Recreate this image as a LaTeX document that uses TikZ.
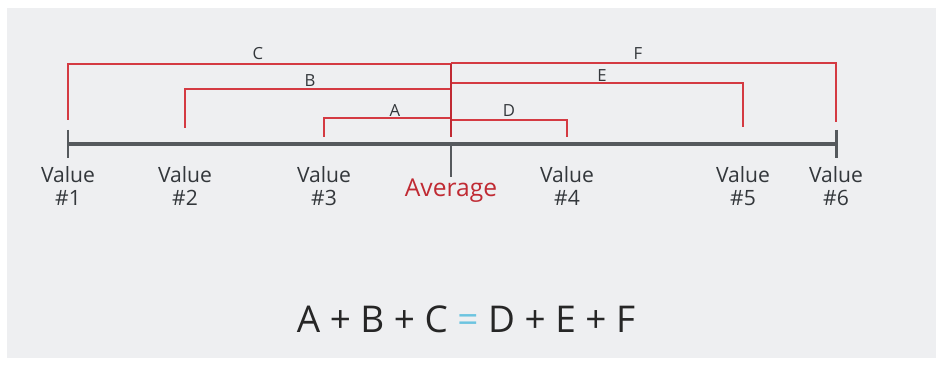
\documentclass[tikz,border=0pt]{standalone}
\usepackage{fontspec}
\setmainfont{Open Sans}
\definecolor{axisgray}{HTML}{55595D}
\definecolor{txtgray}{HTML}{33373B}
\definecolor{brred}{HTML}{D43A42}
\definecolor{avgred}{HTML}{C02A33}
\definecolor{eqblue}{HTML}{6CC4E0}
\definecolor{bggray}{HTML}{EEEFF1}
\begin{document}
\begin{tikzpicture}[x=0.02cm,y=-0.02cm,line join = miter,line cap = butt,
  bracket/.style={draw=brred,line width=1.1pt},
  tick/.style={draw=axisgray,line width=1.7pt},
  vallabel/.style={text=txtgray,align=center,font=\fontsize{12}{13}\selectfont,inner sep=0pt},
  letter/.style={text=txtgray,anchor=base,font=\fontsize{9.5}{11}\selectfont,inner sep=0pt}]
			\def \ybar{144};
			\def \xavg{451};
			\useasboundingbox (0,0) rectangle (944,367);
			\fill[white] (0,0) rectangle (944,367);
			\fill[bggray] (7,8) rectangle (936,358);
			% points on the line
			\coordinate (v1) at (68,\ybar);
			\coordinate (v2) at (185,\ybar);
			\coordinate (v3) at (324,\ybar);
			\coordinate (avg) at (\xavg,\ybar);
			\coordinate (v4) at (567,\ybar);
			\coordinate (v5) at (743,\ybar);
			\coordinate (v6) at (836,\ybar);
			% left brackets
			\draw[bracket] ([yshift=24*0.02cm]v1) |- (\xavg,64);
			\draw[bracket] ([yshift=16*0.02cm]v2) |- (\xavg,89);
			\draw[bracket] ([yshift=7*0.02cm]v3) |- (\xavg,118);
			% right brackets
			\draw[bracket] ([yshift=22*0.02cm]v6) |- (\xavg,63);
			\draw[bracket] ([yshift=17*0.02cm]v5) |- (\xavg,83);
			\draw[bracket] ([yshift=7*0.02cm]v4) |- (\xavg,120);
			\draw[avgred,line width=1.7pt] (\xavg,64) -- (\xavg,137);
			% axis
			\draw[axisgray,line width=2.3pt] (v1) -- (v6);
			\draw[tick] ([yshift=14*0.02cm]v1) -- ([yshift=-14*0.02cm]v1);
			\draw[tick] ([yshift=14*0.02cm]v6) -- ([yshift=-14*0.02cm]v6);
			\draw[tick] (avg) -- ([yshift=-33*0.02cm]avg);
			% labels
			\node[letter] (lc) at (258,60) {C};
			\node[letter] (lb) at (310,87) {B};
			\node[letter] (la) at (395,117) {A};
			\node[letter] (lf) at (638,60) {F};
			\node[letter] (le) at (602,82) {E};
			\node[letter] (ld) at (509,117) {D};
			\foreach \p/\n in {v1/1,v2/2,v3/3,v4/4,v5/5,v6/6}
			  \node[vallabel] (t\n) at ([yshift=-42*0.02cm]\p) {Value\\\#\n};
			\node[text=avgred,anchor=base,inner sep=0pt,font=\fontsize{14}{16}\selectfont] (tavg) at (\xavg,197) {Average};
			\node[text=black!85,anchor=base,inner sep=0pt,font=\fontsize{21}{24}\selectfont] (eq) at (466,333)
			  {A + B + C {\color{eqblue}=} D + E + F};
			\end{tikzpicture}
\end{document}
